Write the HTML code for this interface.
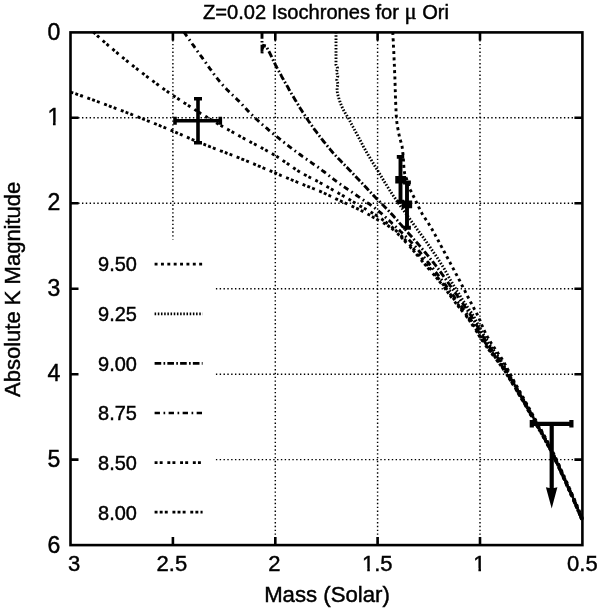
<!DOCTYPE html>
<html><head><meta charset="utf-8"><title>Z=0.02 Isochrones for μ Ori</title>
<style>html,body{margin:0;padding:0;background:#fff}svg{display:block}text{font-family:"Liberation Sans",sans-serif;fill:#000;stroke:#000;stroke-width:0.45px}</style>
</head><body>
<svg width="600" height="611" viewBox="0 0 600 611">
<rect width="600" height="611" fill="#fff"/>
<g stroke="#000" stroke-width="1.45" stroke-dasharray="1.4 2.425" fill="none"><line x1="172.9" y1="32.4" x2="172.9" y2="545.1"/><line x1="275.3" y1="32.4" x2="275.3" y2="545.1"/><line x1="377.6" y1="32.4" x2="377.6" y2="545.1"/><line x1="480.0" y1="32.4" x2="480.0" y2="545.1"/><line x1="70.5" y1="117.8" x2="582.4" y2="117.8"/><line x1="70.5" y1="203.3" x2="582.4" y2="203.3"/><line x1="70.5" y1="288.8" x2="582.4" y2="288.8"/><line x1="70.5" y1="374.2" x2="582.4" y2="374.2"/><line x1="70.5" y1="459.6" x2="582.4" y2="459.6"/></g>
<rect x="70.5" y="239.5" width="145.0" height="305.6" fill="#fff"/>
<g fill="none" stroke="#000" stroke-width="2.9">
<path stroke-dasharray="2.93 2.17 2.93 2.17 2.93 4.72" d="M70.5,92.0 L72.2,92.6 L73.8,93.1 L75.5,93.7 L77.1,94.3 L78.8,94.9 L80.4,95.5 L82.1,96.0 L83.7,96.6 L85.4,97.2 L87.1,97.8 L88.7,98.4 L90.4,99.0 L92.0,99.6 L93.7,100.2 L95.3,100.8 L96.9,101.4 L98.6,102.0 L100.2,102.6 L101.9,103.2 L103.5,103.8 L105.2,104.4 L106.8,105.0 L108.5,105.6 L110.1,106.3 L111.7,106.9 L113.4,107.5 L115.0,108.1 L116.7,108.7 L118.3,109.4 L119.9,110.0 L121.6,110.6 L123.2,111.2 L124.9,111.9 L126.5,112.5 L128.1,113.1 L129.8,113.7 L131.4,114.4 L133.0,115.0 L134.7,115.7 L136.3,116.3 L137.9,116.9 L139.6,117.6 L141.2,118.2 L142.8,118.9 L144.4,119.5 L146.1,120.1 L147.7,120.8 L149.3,121.4 L151.0,122.1 L152.6,122.7 L154.2,123.4 L155.8,124.0 L157.5,124.7 L159.1,125.3 L160.7,126.0 L162.3,126.6 L164.0,127.3 L165.6,128.0 L167.2,128.7 L168.8,129.3 L170.4,130.0 L172.0,130.7 L173.6,131.4 L175.3,132.1 L176.9,132.8 L178.5,133.5 L180.1,134.2 L181.7,134.9 L183.3,135.6 L184.9,136.3 L186.5,137.0 L188.1,137.7 L189.7,138.4 L191.3,139.1 L193.0,139.8 L194.6,140.5 L196.2,141.1 L197.8,141.8 L199.4,142.5 L201.0,143.1 L202.7,143.8 L204.3,144.4 L205.9,145.1 L207.6,145.7 L209.2,146.4 L210.8,147.0 L212.5,147.6 L214.1,148.3 L215.7,148.9 L217.4,149.5 L219.0,150.1 L220.6,150.8 L222.3,151.4 L223.9,152.0 L225.6,152.6 L227.2,153.3 L228.8,153.9 L230.5,154.5 L232.1,155.2 L233.7,155.8 L235.4,156.5 L237.0,157.1 L238.6,157.7 L240.2,158.4 L241.9,159.1 L243.5,159.7 L245.1,160.4 L246.7,161.0 L248.4,161.7 L250.0,162.4 L251.6,163.1 L253.2,163.7 L254.8,164.4 L256.4,165.1 L258.1,165.8 L259.7,166.4 L261.3,167.1 L262.9,167.8 L264.5,168.5 L266.1,169.2 L267.8,169.8 L269.4,170.5 L271.0,171.2 L272.6,171.9 L274.2,172.6 L275.8,173.2 L277.5,173.9 L279.1,174.6 L280.7,175.3 L282.3,175.9 L283.9,176.6 L285.5,177.3 L287.2,178.0 L288.8,178.7 L290.4,179.3 L292.0,180.0 L293.6,180.7 L295.2,181.3 L296.9,182.0 L298.5,182.7 L300.1,183.3 L301.7,184.0 L303.4,184.7 L305.0,185.3 L306.6,185.9 L308.3,186.6 L309.9,187.2 L311.5,187.8 L313.2,188.5 L314.8,189.1 L316.4,189.8 L318.0,190.5 L319.6,191.1 L321.3,191.8 L322.9,192.6 L324.4,193.3 L326.0,194.0 L327.6,194.8 L329.2,195.5 L330.8,196.3 L332.4,197.0 L333.9,197.8 L335.5,198.6 L337.1,199.3 L338.7,200.1 L340.3,200.8 L341.9,201.6 L343.5,202.3 L345.1,203.0 L346.7,203.7 L348.3,204.5 L349.9,205.2 L351.4,205.9 L353.0,206.7 L354.6,207.4 L356.2,208.1 L357.8,208.9 L359.4,209.7 L360.9,210.5 L362.5,211.3 L364.0,212.1 L365.6,212.9 L367.1,213.7 L368.7,214.6 L370.2,215.4 L371.7,216.3 L373.2,217.2 L374.8,218.0 L376.3,218.9 L377.8,219.8 L379.4,220.6 L380.9,221.5 L382.5,222.3 L384.0,223.2 L385.5,224.1 L387.0,225.0 L388.5,226.0 L389.9,227.0 L391.3,228.0 L392.6,229.1 L393.9,230.2 L395.2,231.3 L396.5,232.5 L397.8,233.7 L399.0,235.0 L400.3,236.2 L401.5,237.5 L402.7,238.8 L403.9,240.1 L405.1,241.4 L406.3,242.7 L407.5,244.0 L408.7,245.3 L409.9,246.6 L411.0,247.9 L412.2,249.2 L413.3,250.5 L414.5,251.9 L415.6,253.2 L416.7,254.6 L417.8,255.9 L418.9,257.3 L420.1,258.6 L421.2,260.0 L422.3,261.3 L423.4,262.7 L424.6,264.0 L425.7,265.3 L426.9,266.7 L428.0,268.0 L429.2,269.3 L430.3,270.6 L431.5,271.9 L432.6,273.3 L433.8,274.6 L434.9,275.9 L436.1,277.3 L437.2,278.6 L438.3,279.9 L439.4,281.3 L440.5,282.7 L441.6,284.0 L442.7,285.4 L443.7,286.8 L444.8,288.2 L445.8,289.6 L446.9,291.0 L447.9,292.5 L448.9,293.9 L449.9,295.3 L451.0,296.7 L452.0,298.1 L453.0,299.6 L454.1,301.0 L455.2,302.3 L456.2,303.7 L457.3,305.1 L458.4,306.5 L459.6,307.8 L460.7,309.2 L461.8,310.5 L462.9,311.9 L464.0,313.3 L465.1,314.6 L466.2,316.0 L467.2,317.4 L468.2,318.8 L469.2,320.3 L470.2,321.7 L471.2,323.2 L472.2,324.6 L473.1,326.1 L474.1,327.6 L475.0,329.1 L475.9,330.5 L476.9,332.0 L477.8,333.5 L478.7,335.0 L479.6,336.5 L480.6,338.0 L481.5,339.4 L482.5,340.9 L483.5,342.4 L484.5,343.8 L485.5,345.2 L486.5,346.7 L487.5,348.1 L488.6,349.5 L489.6,350.9 L490.7,352.3 L491.8,353.7 L492.8,355.1 L493.9,356.4 L495.0,357.8 L496.1,359.2 L497.1,360.6 L498.2,362.0 L499.2,363.4 L500.3,364.8 L501.3,366.3 L502.3,367.7 L503.3,369.1 L504.3,370.6 L505.2,372.0 L506.2,373.5 L507.1,375.0 L508.0,376.5 L509.0,378.0 L509.9,379.5 L510.8,381.0 L511.7,382.5 L512.6,384.0 L513.5,385.5 L514.4,387.0 L515.4,388.5 L516.3,390.0 L517.2,391.5 L518.1,393.0 L518.9,394.5 L519.8,396.0 L520.7,397.5 L521.6,399.0 L522.5,400.5 L523.4,402.0 L524.2,403.6 L525.1,405.1 L526.0,406.6 L526.9,408.1 L527.7,409.7 L528.6,411.2 L529.5,412.7 L530.3,414.2 L531.2,415.7 L532.1,417.3 L532.9,418.8 L533.8,420.3 L534.6,421.8 L535.5,423.4 L536.4,424.9 L537.3,426.4 L538.1,427.9 L539.0,429.5 L539.9,431.0 L540.7,432.5 L541.6,434.0 L542.4,435.6 L543.3,437.1 L544.2,438.6 L545.0,440.2 L545.8,441.7 L546.7,443.3 L547.5,444.8 L548.3,446.3 L549.1,447.9 L549.9,449.5 L550.7,451.0 L551.5,452.6 L552.3,454.1 L553.1,455.7 L553.8,457.3 L554.6,458.9 L555.3,460.5 L556.1,462.0 L556.8,463.6 L557.6,465.2 L558.3,466.8 L559.1,468.4 L559.8,470.0 L560.5,471.6 L561.2,473.2 L562.0,474.8 L562.7,476.4 L563.4,478.0 L564.2,479.6 L564.9,481.2 L565.6,482.8 L566.3,484.4 L567.0,486.0 L567.8,487.5 L568.5,489.1 L569.2,490.7 L569.9,492.3 L570.6,494.0 L571.3,495.6 L572.0,497.2 L572.7,498.8 L573.5,500.4 L574.2,502.0 L574.9,503.6 L575.6,505.2 L576.3,506.8 L576.9,508.4 L577.6,510.0 L578.3,511.6 L579.0,513.2 L579.7,514.9 L580.4,516.5 L581.1,518.1 L581.8,519.7"/>
<path stroke-dasharray="2.93 2.17 2.93 4.72" d="M93.3,32.0 L94.6,33.2 L95.9,34.4 L97.2,35.6 L98.6,36.8 L99.9,38.0 L101.2,39.2 L102.6,40.4 L103.9,41.6 L105.2,42.7 L106.6,43.9 L107.9,45.1 L109.3,46.2 L110.6,47.4 L112.0,48.6 L113.3,49.7 L114.7,50.9 L116.0,52.0 L117.4,53.1 L118.8,54.3 L120.1,55.4 L121.5,56.5 L122.9,57.7 L124.3,58.8 L125.6,59.9 L127.0,61.0 L128.4,62.1 L129.8,63.3 L131.2,64.4 L132.6,65.5 L134.0,66.6 L135.4,67.7 L136.8,68.8 L138.2,69.8 L139.6,70.9 L141.0,72.0 L142.4,73.1 L143.8,74.2 L145.2,75.3 L146.6,76.3 L148.0,77.4 L149.4,78.5 L150.8,79.5 L152.3,80.6 L153.7,81.6 L155.1,82.7 L156.5,83.8 L158.0,84.8 L159.4,85.9 L160.8,86.9 L162.3,87.9 L163.7,89.0 L165.1,90.0 L166.6,91.0 L168.1,92.0 L169.5,93.0 L171.0,94.0 L172.5,95.0 L173.9,96.0 L175.4,97.0 L176.9,98.0 L178.4,99.0 L179.9,100.0 L181.3,100.9 L182.8,101.9 L184.3,102.9 L185.8,103.8 L187.3,104.8 L188.8,105.8 L190.3,106.7 L191.8,107.7 L193.3,108.6 L194.8,109.6 L196.3,110.6 L197.8,111.5 L199.3,112.4 L200.8,113.4 L202.3,114.3 L203.8,115.3 L205.3,116.2 L206.8,117.1 L208.4,118.0 L209.9,119.0 L211.4,119.9 L212.9,120.8 L214.4,121.7 L216.0,122.6 L217.5,123.5 L219.0,124.4 L220.6,125.3 L222.1,126.2 L223.6,127.1 L225.2,128.0 L226.7,128.9 L228.3,129.7 L229.8,130.6 L231.4,131.5 L232.9,132.3 L234.5,133.2 L236.0,134.1 L237.6,134.9 L239.1,135.8 L240.7,136.7 L242.2,137.5 L243.8,138.4 L245.3,139.2 L246.9,140.1 L248.5,140.9 L250.0,141.7 L251.6,142.6 L253.2,143.4 L254.8,144.2 L256.3,145.1 L257.9,145.9 L259.5,146.7 L261.0,147.6 L262.6,148.4 L264.2,149.2 L265.7,150.1 L267.3,151.0 L268.8,151.8 L270.4,152.7 L271.9,153.6 L273.4,154.5 L275.0,155.4 L276.5,156.3 L278.0,157.2 L279.5,158.2 L281.0,159.2 L282.4,160.2 L283.9,161.2 L285.4,162.2 L286.8,163.2 L288.3,164.2 L289.7,165.3 L291.2,166.3 L292.7,167.3 L294.1,168.3 L295.6,169.3 L297.1,170.2 L298.6,171.2 L300.1,172.1 L301.6,173.0 L303.2,173.8 L304.7,174.7 L306.3,175.5 L307.9,176.4 L309.5,177.2 L311.0,178.0 L312.6,178.8 L314.2,179.6 L315.8,180.4 L317.4,181.3 L318.9,182.1 L320.5,183.0 L322.0,183.8 L323.6,184.7 L325.1,185.5 L326.7,186.4 L328.2,187.3 L329.8,188.1 L331.3,189.0 L332.9,189.9 L334.4,190.8 L336.0,191.7 L337.5,192.5 L339.0,193.4 L340.6,194.3 L342.1,195.2 L343.6,196.1 L345.2,197.1 L346.7,198.0 L348.2,198.9 L349.7,199.8 L351.2,200.7 L352.7,201.7 L354.3,202.6 L355.8,203.5 L357.3,204.4 L358.8,205.3 L360.4,206.2 L361.9,207.1 L363.5,208.0 L365.0,208.8 L366.6,209.7 L368.1,210.6 L369.7,211.4 L371.2,212.3 L372.8,213.2 L374.3,214.1 L375.8,215.0 L377.3,216.0 L378.7,217.0 L380.2,218.0 L381.7,219.0 L383.1,220.1 L384.5,221.1 L385.9,222.2 L387.3,223.3 L388.7,224.4 L390.1,225.5 L391.5,226.7 L392.8,227.8 L394.1,229.0 L395.5,230.2 L396.8,231.4 L398.0,232.6 L399.3,233.9 L400.6,235.1 L401.8,236.4 L403.1,237.7 L404.3,238.9 L405.5,240.2 L406.8,241.5 L408.0,242.8 L409.2,244.1 L410.4,245.4 L411.6,246.7 L412.8,248.0 L414.0,249.4 L415.1,250.7 L416.3,252.0 L417.5,253.4 L418.6,254.7 L419.8,256.1 L420.9,257.5 L422.1,258.8 L423.2,260.2 L424.3,261.5 L425.5,262.9 L426.6,264.2 L427.8,265.6 L428.9,267.0 L430.1,268.3 L431.2,269.7 L432.3,271.1 L433.5,272.4 L434.6,273.8 L435.7,275.2 L436.9,276.5 L438.0,277.9 L439.1,279.3 L440.2,280.7 L441.3,282.1 L442.4,283.5 L443.5,284.9 L444.5,286.3 L445.6,287.7 L446.7,289.2 L447.7,290.6 L448.8,292.0 L449.8,293.5 L450.8,294.9 L451.9,296.3 L453.0,297.8 L454.0,299.2 L455.1,300.6 L456.2,302.0 L457.2,303.4 L458.3,304.8 L459.4,306.2 L460.6,307.6 L461.7,309.0 L462.8,310.4 L463.9,311.8 L464.9,313.2 L466.0,314.6 L467.1,316.0 L468.1,317.5 L469.1,318.9 L470.2,320.4 L471.1,321.8 L472.1,323.3 L473.1,324.8 L474.1,326.3 L475.0,327.8 L476.0,329.3 L476.9,330.8 L477.9,332.3 L478.8,333.8 L479.7,335.3 L480.6,336.9 L481.6,338.4 L482.5,339.9 L483.5,341.3 L484.5,342.8 L485.5,344.3 L486.6,345.7 L487.6,347.2 L488.6,348.6 L489.7,350.0 L490.7,351.5 L491.8,352.9 L492.9,354.3 L494.0,355.7 L495.1,357.1 L496.1,358.5 L497.2,359.9 L498.2,361.4 L499.3,362.8 L500.3,364.2 L501.4,365.7 L502.4,367.1 L503.4,368.6 L504.4,370.1 L505.3,371.6 L506.3,373.1 L507.2,374.6 L508.2,376.1 L509.1,377.6 L510.0,379.1 L510.9,380.7 L511.8,382.2 L512.8,383.7 L513.7,385.2 L514.6,386.7 L515.5,388.3 L516.4,389.8 L517.3,391.3 L518.2,392.8 L519.1,394.4 L520.0,395.9 L520.9,397.4 L521.8,399.0 L522.7,400.5 L523.6,402.0 L524.5,403.6 L525.4,405.1 L526.2,406.7 L527.1,408.2 L528.0,409.8 L528.9,411.3 L529.8,412.8 L530.6,414.4 L531.5,415.9 L532.4,417.5 L533.3,419.0 L534.1,420.6 L535.0,422.1 L535.9,423.7 L536.8,425.2 L537.6,426.8 L538.5,428.3 L539.4,429.8 L540.3,431.4 L541.2,432.9 L542.0,434.5 L542.9,436.0 L543.8,437.6 L544.6,439.1 L545.5,440.7 L546.3,442.3 L547.2,443.8 L548.0,445.4 L548.8,447.0 L549.6,448.5 L550.4,450.1 L551.2,451.7 L552.0,453.3 L552.8,454.9 L553.6,456.5 L554.4,458.1 L555.1,459.7 L555.9,461.3 L556.6,462.9 L557.4,464.5 L558.1,466.1 L558.9,467.7 L559.6,469.3 L560.4,470.9 L561.1,472.6 L561.9,474.2 L562.6,475.8 L563.3,477.4 L564.1,479.0 L564.8,480.6 L565.5,482.3 L566.3,483.9 L567.0,485.5 L567.7,487.1 L568.4,488.7 L569.2,490.4 L569.9,492.0 L570.6,493.6 L571.3,495.2 L572.1,496.9 L572.8,498.5 L573.5,500.1 L574.2,501.7 L574.9,503.4 L575.6,505.0 L576.3,506.6 L577.0,508.3 L577.7,509.9 L578.4,511.5 L579.1,513.2 L579.8,514.8 L580.5,516.4 L581.2,518.1 L581.9,519.7"/>
<path stroke-dasharray="5.35 3.57 1.66 3.44" d="M184.0,32.0 L184.9,33.3 L185.8,34.6 L186.7,36.0 L187.6,37.3 L188.6,38.6 L189.5,39.9 L190.4,41.2 L191.3,42.5 L192.2,43.8 L193.2,45.1 L194.1,46.4 L195.0,47.8 L195.9,49.1 L196.9,50.4 L197.8,51.7 L198.7,53.0 L199.7,54.3 L200.6,55.6 L201.6,56.9 L202.5,58.2 L203.4,59.5 L204.3,60.8 L205.3,62.1 L206.2,63.4 L207.1,64.7 L208.1,66.0 L209.0,67.3 L209.9,68.6 L210.9,69.9 L211.8,71.2 L212.8,72.5 L213.7,73.8 L214.7,75.1 L215.7,76.4 L216.6,77.6 L217.6,78.9 L218.6,80.1 L219.6,81.4 L220.6,82.6 L221.7,83.8 L222.7,85.0 L223.8,86.2 L224.9,87.4 L226.0,88.5 L227.1,89.7 L228.2,90.8 L229.3,91.9 L230.5,93.0 L231.6,94.2 L232.8,95.3 L234.0,96.4 L235.1,97.5 L236.3,98.6 L237.4,99.7 L238.6,100.9 L239.7,102.0 L240.8,103.1 L241.9,104.3 L243.0,105.5 L244.1,106.7 L245.2,107.8 L246.3,109.0 L247.4,110.2 L248.5,111.4 L249.6,112.5 L250.7,113.7 L251.8,114.8 L252.9,115.9 L254.1,117.0 L255.2,118.1 L256.4,119.2 L257.6,120.3 L258.8,121.4 L260.0,122.5 L261.2,123.5 L262.4,124.6 L263.6,125.6 L264.8,126.7 L266.0,127.7 L267.3,128.7 L268.5,129.8 L269.7,130.8 L270.9,131.8 L272.2,132.9 L273.4,133.9 L274.6,134.9 L275.9,135.9 L277.1,136.9 L278.4,137.9 L279.6,138.9 L280.9,139.9 L282.1,140.9 L283.4,141.9 L284.6,142.9 L285.9,143.9 L287.2,144.9 L288.4,145.8 L289.7,146.8 L291.0,147.8 L292.3,148.8 L293.5,149.7 L294.8,150.7 L296.1,151.6 L297.4,152.6 L298.7,153.6 L300.0,154.5 L301.3,155.5 L302.5,156.4 L303.8,157.3 L305.1,158.3 L306.5,159.2 L307.8,160.1 L309.1,161.0 L310.4,161.9 L311.7,162.8 L313.0,163.8 L314.4,164.7 L315.7,165.6 L317.0,166.5 L318.3,167.4 L319.6,168.4 L320.9,169.3 L322.1,170.3 L323.4,171.3 L324.7,172.2 L326.0,173.2 L327.2,174.2 L328.5,175.2 L329.7,176.2 L331.0,177.2 L332.3,178.1 L333.5,179.1 L334.8,180.1 L336.1,181.1 L337.4,182.0 L338.6,183.0 L339.9,183.9 L341.2,184.9 L342.5,185.8 L343.8,186.7 L345.2,187.6 L346.5,188.5 L347.8,189.4 L349.1,190.3 L350.5,191.2 L351.8,192.1 L353.1,193.0 L354.5,193.9 L355.8,194.8 L357.1,195.7 L358.4,196.6 L359.8,197.5 L361.1,198.4 L362.4,199.3 L363.7,200.2 L365.0,201.1 L366.4,202.0 L367.7,203.0 L369.0,203.9 L370.3,204.8 L371.6,205.7 L372.9,206.7 L374.2,207.6 L375.5,208.6 L376.7,209.6 L378.0,210.5 L379.2,211.6 L380.4,212.6 L381.6,213.6 L382.8,214.7 L384.0,215.8 L385.2,216.9 L386.4,217.9 L387.6,219.0 L388.7,220.1 L389.9,221.2 L391.1,222.3 L392.2,223.5 L393.4,224.6 L394.5,225.7 L395.7,226.8 L396.8,227.9 L398.0,229.0 L399.2,230.1 L400.3,231.2 L401.5,232.3 L402.6,233.5 L403.8,234.6 L404.9,235.7 L406.0,236.8 L407.2,238.0 L408.3,239.1 L409.4,240.3 L410.5,241.4 L411.6,242.6 L412.7,243.8 L413.8,244.9 L414.8,246.1 L415.9,247.3 L416.9,248.6 L417.9,249.8 L419.0,251.0 L420.0,252.2 L421.0,253.5 L422.0,254.7 L423.0,256.0 L424.0,257.2 L425.0,258.5 L426.0,259.7 L427.0,261.0 L428.0,262.3 L429.0,263.5 L430.0,264.8 L431.0,266.0 L432.0,267.3 L433.0,268.5 L434.0,269.8 L434.9,271.1 L435.9,272.3 L436.9,273.6 L437.9,274.9 L438.8,276.2 L439.8,277.4 L440.8,278.7 L441.7,280.0 L442.7,281.3 L443.7,282.5 L444.6,283.8 L445.6,285.1 L446.5,286.4 L447.5,287.7 L448.4,289.0 L449.4,290.3 L450.3,291.6 L451.3,292.9 L452.2,294.1 L453.2,295.4 L454.1,296.7 L455.0,298.0 L456.0,299.3 L456.9,300.6 L457.9,301.9 L458.9,303.2 L459.8,304.4 L460.8,305.7 L461.8,307.0 L462.8,308.3 L463.7,309.5 L464.7,310.8 L465.6,312.1 L466.6,313.4 L467.5,314.7 L468.5,316.0 L469.4,317.3 L470.3,318.6 L471.1,320.0 L472.0,321.3 L472.9,322.7 L473.7,324.0 L474.6,325.4 L475.4,326.7 L476.3,328.1 L477.1,329.5 L478.0,330.8 L478.8,332.2 L479.6,333.6 L480.4,334.9 L481.2,336.3 L482.1,337.7 L482.9,339.0 L483.8,340.4 L484.7,341.7 L485.6,343.1 L486.5,344.4 L487.4,345.7 L488.3,347.0 L489.2,348.3 L490.2,349.6 L491.1,350.9 L492.1,352.2 L493.0,353.5 L494.0,354.7 L495.0,356.0 L495.9,357.3 L496.9,358.6 L497.8,359.9 L498.8,361.2 L499.7,362.5 L500.6,363.8 L501.5,365.1 L502.4,366.4 L503.3,367.7 L504.2,369.1 L505.1,370.4 L506.0,371.8 L506.8,373.1 L507.6,374.5 L508.4,375.9 L509.3,377.3 L510.1,378.6 L510.9,380.0 L511.7,381.4 L512.6,382.8 L513.4,384.1 L514.2,385.5 L515.0,386.9 L515.8,388.3 L516.7,389.6 L517.5,391.0 L518.3,392.4 L519.1,393.8 L519.9,395.2 L520.7,396.5 L521.5,397.9 L522.3,399.3 L523.1,400.7 L523.9,402.1 L524.7,403.5 L525.5,404.9 L526.3,406.3 L527.1,407.7 L527.9,409.0 L528.7,410.4 L529.5,411.8 L530.2,413.2 L531.0,414.6 L531.8,416.0 L532.6,417.4 L533.4,418.8 L534.2,420.2 L535.0,421.6 L535.7,423.0 L536.5,424.4 L537.3,425.8 L538.1,427.2 L538.9,428.6 L539.7,430.0 L540.5,431.4 L541.3,432.8 L542.1,434.1 L542.8,435.5 L543.6,436.9 L544.4,438.3 L545.2,439.8 L545.9,441.2 L546.7,442.6 L547.4,444.0 L548.2,445.4 L548.9,446.8 L549.7,448.2 L550.4,449.7 L551.1,451.1 L551.8,452.5 L552.5,453.9 L553.3,455.4 L554.0,456.8 L554.6,458.3 L555.3,459.7 L556.0,461.2 L556.7,462.6 L557.4,464.1 L558.1,465.5 L558.7,467.0 L559.4,468.4 L560.1,469.9 L560.7,471.3 L561.4,472.8 L562.1,474.3 L562.7,475.7 L563.4,477.2 L564.1,478.6 L564.7,480.1 L565.4,481.5 L566.0,483.0 L566.7,484.5 L567.4,485.9 L568.0,487.4 L568.7,488.8 L569.3,490.3 L570.0,491.8 L570.6,493.2 L571.3,494.7 L571.9,496.2 L572.6,497.6 L573.2,499.1 L573.8,500.6 L574.5,502.0 L575.1,503.5 L575.8,505.0 L576.4,506.4 L577.0,507.9 L577.7,509.4 L578.3,510.8 L578.9,512.3 L579.5,513.8 L580.2,515.3 L580.8,516.7 L581.4,518.2 L582.0,519.7"/>
<path stroke-dasharray="6.63 2.29 1.66 2.17" d="M262.0,32.0 L262.0,53.5 L262.3,49.0 L263.5,45.5 L266.0,46.0 L269.5,52.5 L275.5,65.0 L276.2,66.2 L276.8,67.4 L277.5,68.7 L278.1,69.9 L278.8,71.1 L279.4,72.3 L280.1,73.5 L280.8,74.7 L281.4,75.9 L282.1,77.2 L282.8,78.4 L283.5,79.6 L284.1,80.8 L284.8,82.0 L285.5,83.2 L286.2,84.4 L286.9,85.6 L287.6,86.8 L288.3,88.0 L288.9,89.2 L289.6,90.4 L290.3,91.6 L291.0,92.8 L291.7,94.0 L292.4,95.2 L293.1,96.4 L293.8,97.5 L294.5,98.7 L295.2,99.9 L295.9,101.1 L296.6,102.3 L297.4,103.5 L298.1,104.7 L298.8,105.9 L299.5,107.1 L300.2,108.2 L301.0,109.4 L301.7,110.6 L302.4,111.8 L303.2,112.9 L303.9,114.1 L304.7,115.2 L305.4,116.4 L306.2,117.5 L307.0,118.7 L307.7,119.8 L308.5,121.0 L309.3,122.1 L310.1,123.2 L310.9,124.4 L311.7,125.5 L312.5,126.6 L313.3,127.7 L314.1,128.9 L314.9,130.0 L315.8,131.1 L316.6,132.2 L317.4,133.3 L318.3,134.4 L319.1,135.5 L319.9,136.6 L320.8,137.7 L321.6,138.8 L322.5,139.9 L323.3,141.0 L324.2,142.1 L325.1,143.2 L325.9,144.3 L326.8,145.3 L327.7,146.4 L328.6,147.5 L329.5,148.5 L330.3,149.6 L331.2,150.6 L332.1,151.7 L333.0,152.7 L334.0,153.7 L334.9,154.8 L335.8,155.8 L336.8,156.8 L337.7,157.8 L338.6,158.8 L339.6,159.8 L340.6,160.8 L341.5,161.8 L342.5,162.8 L343.4,163.8 L344.4,164.8 L345.4,165.8 L346.3,166.8 L347.3,167.8 L348.3,168.8 L349.2,169.8 L350.2,170.8 L351.2,171.8 L352.1,172.8 L353.1,173.8 L354.0,174.8 L355.0,175.8 L355.9,176.8 L356.9,177.8 L357.8,178.8 L358.8,179.8 L359.7,180.8 L360.7,181.8 L361.6,182.8 L362.6,183.8 L363.5,184.8 L364.5,185.8 L365.4,186.8 L366.4,187.8 L367.3,188.9 L368.3,189.9 L369.2,190.9 L370.2,191.9 L371.1,192.9 L372.1,193.9 L373.0,194.9 L374.0,195.9 L375.0,196.9 L375.9,197.9 L376.9,198.9 L377.8,199.9 L378.8,200.8 L379.8,201.8 L380.7,202.8 L381.7,203.8 L382.7,204.8 L383.7,205.8 L384.6,206.7 L385.6,207.7 L386.6,208.7 L387.5,209.7 L388.5,210.7 L389.5,211.7 L390.4,212.7 L391.3,213.7 L392.3,214.8 L393.2,215.8 L394.1,216.8 L395.0,217.9 L395.9,218.9 L396.9,219.9 L397.8,221.0 L398.7,222.0 L399.6,223.1 L400.5,224.1 L401.4,225.1 L402.3,226.2 L403.2,227.2 L404.1,228.3 L405.0,229.3 L406.0,230.3 L406.9,231.4 L407.8,232.4 L408.7,233.5 L409.6,234.5 L410.5,235.5 L411.5,236.6 L412.4,237.6 L413.3,238.6 L414.2,239.7 L415.1,240.7 L416.0,241.7 L417.0,242.8 L417.9,243.8 L418.8,244.9 L419.7,245.9 L420.6,247.0 L421.5,248.0 L422.4,249.1 L423.3,250.1 L424.1,251.2 L425.0,252.3 L425.9,253.3 L426.8,254.4 L427.7,255.4 L428.6,256.5 L429.4,257.6 L430.3,258.7 L431.2,259.7 L432.1,260.8 L432.9,261.9 L433.8,263.0 L434.6,264.1 L435.5,265.2 L436.3,266.3 L437.1,267.4 L438.0,268.5 L438.8,269.6 L439.6,270.7 L440.4,271.8 L441.2,272.9 L442.0,274.1 L442.8,275.2 L443.6,276.3 L444.4,277.5 L445.2,278.6 L446.0,279.7 L446.8,280.9 L447.6,282.0 L448.4,283.1 L449.2,284.2 L450.0,285.4 L450.8,286.5 L451.6,287.6 L452.4,288.7 L453.2,289.9 L454.0,291.0 L454.8,292.1 L455.6,293.3 L456.4,294.4 L457.2,295.5 L458.0,296.7 L458.8,297.8 L459.6,298.9 L460.4,300.1 L461.2,301.2 L462.0,302.3 L462.8,303.5 L463.5,304.6 L464.3,305.7 L465.1,306.9 L465.9,308.0 L466.7,309.2 L467.5,310.3 L468.2,311.5 L469.0,312.6 L469.8,313.8 L470.5,314.9 L471.2,316.1 L472.0,317.3 L472.7,318.5 L473.4,319.6 L474.1,320.8 L474.8,322.0 L475.5,323.2 L476.2,324.4 L476.9,325.6 L477.6,326.8 L478.2,328.0 L478.9,329.2 L479.6,330.4 L480.3,331.6 L481.0,332.8 L481.7,334.0 L482.4,335.2 L483.1,336.4 L483.8,337.6 L484.5,338.8 L485.2,340.0 L486.0,341.1 L486.7,342.3 L487.5,343.4 L488.3,344.6 L489.1,345.7 L489.8,346.9 L490.6,348.0 L491.4,349.1 L492.2,350.3 L493.0,351.4 L493.9,352.5 L494.7,353.6 L495.5,354.7 L496.3,355.8 L497.1,357.0 L498.0,358.1 L498.8,359.2 L499.5,360.3 L500.3,361.5 L501.1,362.6 L501.8,363.8 L502.6,365.0 L503.4,366.1 L504.1,367.3 L504.8,368.5 L505.6,369.6 L506.3,370.8 L507.0,372.0 L507.7,373.2 L508.4,374.4 L509.1,375.6 L509.8,376.8 L510.5,378.0 L511.2,379.2 L511.9,380.4 L512.6,381.6 L513.3,382.8 L513.9,384.0 L514.6,385.1 L515.3,386.3 L516.0,387.5 L516.7,388.7 L517.4,389.9 L518.1,391.1 L518.8,392.3 L519.5,393.5 L520.2,394.7 L520.9,395.9 L521.6,397.1 L522.3,398.3 L523.0,399.5 L523.6,400.7 L524.3,401.9 L525.0,403.1 L525.7,404.3 L526.4,405.5 L527.1,406.7 L527.8,407.9 L528.4,409.1 L529.1,410.3 L529.8,411.5 L530.5,412.7 L531.1,414.0 L531.8,415.2 L532.5,416.4 L533.2,417.6 L533.9,418.8 L534.5,420.0 L535.2,421.2 L535.9,422.4 L536.6,423.6 L537.2,424.8 L537.9,426.0 L538.6,427.2 L539.3,428.4 L540.0,429.6 L540.6,430.8 L541.3,432.0 L542.0,433.3 L542.7,434.5 L543.3,435.7 L544.0,436.9 L544.7,438.1 L545.3,439.3 L546.0,440.5 L546.7,441.7 L547.3,443.0 L548.0,444.2 L548.6,445.4 L549.2,446.6 L549.9,447.9 L550.5,449.1 L551.1,450.3 L551.7,451.6 L552.4,452.8 L553.0,454.0 L553.6,455.3 L554.2,456.5 L554.8,457.8 L555.4,459.0 L556.0,460.3 L556.6,461.5 L557.1,462.8 L557.7,464.0 L558.3,465.3 L558.9,466.5 L559.5,467.8 L560.1,469.1 L560.6,470.3 L561.2,471.6 L561.8,472.8 L562.3,474.1 L562.9,475.3 L563.5,476.6 L564.1,477.9 L564.6,479.1 L565.2,480.4 L565.8,481.7 L566.3,482.9 L566.9,484.2 L567.5,485.4 L568.0,486.7 L568.6,488.0 L569.2,489.2 L569.7,490.5 L570.3,491.7 L570.9,493.0 L571.4,494.3 L572.0,495.5 L572.5,496.8 L573.1,498.1 L573.6,499.3 L574.2,500.6 L574.7,501.9 L575.3,503.2 L575.8,504.4 L576.4,505.7 L576.9,507.0 L577.5,508.2 L578.0,509.5 L578.6,510.8 L579.1,512.0 L579.7,513.3 L580.2,514.6 L580.7,515.9 L581.3,517.1 L581.8,518.4 L582.3,519.7"/>
<path stroke-dasharray="1.53 1.66" d="M336.0,32.0 L336.0,65.0 L337.5,68.0 L336.5,72.0 L337.8,76.0 L336.8,80.0 L338.0,84.0 L337.0,88.0 L337.3,92.0 L337.6,93.2 L337.8,94.4 L338.1,95.7 L338.5,96.9 L338.8,98.1 L339.2,99.3 L339.6,100.4 L339.9,101.6 L340.4,102.8 L340.8,103.9 L341.2,105.1 L341.7,106.2 L342.2,107.3 L342.7,108.4 L343.3,109.5 L343.8,110.6 L344.5,111.7 L345.1,112.8 L345.7,113.8 L346.4,114.9 L347.0,116.0 L347.6,117.1 L348.3,118.1 L348.9,119.2 L349.5,120.3 L350.1,121.4 L350.6,122.5 L351.2,123.6 L351.8,124.7 L352.4,125.8 L353.0,126.9 L353.6,127.9 L354.2,129.0 L354.7,130.1 L355.3,131.2 L355.9,132.3 L356.5,133.4 L357.1,134.5 L357.7,135.6 L358.2,136.7 L358.8,137.8 L359.4,138.9 L360.0,140.0 L360.6,141.1 L361.1,142.2 L361.7,143.3 L362.3,144.4 L362.9,145.5 L363.4,146.6 L364.0,147.7 L364.6,148.7 L365.2,149.8 L365.8,150.9 L366.4,152.0 L367.0,153.1 L367.7,154.1 L368.3,155.2 L368.9,156.3 L369.6,157.3 L370.2,158.4 L370.8,159.4 L371.5,160.5 L372.1,161.6 L372.8,162.6 L373.4,163.7 L374.1,164.7 L374.7,165.8 L375.4,166.8 L376.0,167.9 L376.7,169.0 L377.3,170.0 L378.0,171.1 L378.6,172.1 L379.2,173.2 L379.9,174.3 L380.5,175.3 L381.2,176.4 L381.8,177.4 L382.4,178.5 L383.1,179.6 L383.7,180.6 L384.4,181.7 L385.0,182.7 L385.7,183.8 L386.3,184.8 L387.0,185.9 L387.6,187.0 L388.3,188.0 L388.9,189.0 L389.6,190.1 L390.3,191.1 L391.0,192.2 L391.6,193.2 L392.3,194.2 L393.0,195.3 L393.7,196.3 L394.4,197.3 L395.1,198.3 L395.8,199.4 L396.5,200.4 L397.2,201.4 L397.9,202.4 L398.6,203.4 L399.3,204.4 L400.1,205.4 L400.8,206.5 L401.5,207.5 L402.2,208.5 L402.9,209.5 L403.7,210.5 L404.4,211.5 L405.1,212.5 L405.8,213.5 L406.6,214.5 L407.3,215.5 L408.0,216.5 L408.7,217.5 L409.5,218.5 L410.2,219.5 L410.9,220.6 L411.6,221.6 L412.3,222.6 L413.1,223.6 L413.8,224.6 L414.5,225.6 L415.3,226.6 L416.0,227.6 L416.7,228.6 L417.4,229.6 L418.2,230.6 L418.9,231.6 L419.6,232.6 L420.4,233.6 L421.1,234.6 L421.8,235.6 L422.6,236.6 L423.3,237.6 L424.0,238.6 L424.7,239.6 L425.4,240.6 L426.1,241.6 L426.9,242.7 L427.6,243.7 L428.3,244.7 L429.0,245.7 L429.7,246.7 L430.4,247.7 L431.1,248.8 L431.8,249.8 L432.5,250.8 L433.2,251.8 L433.9,252.9 L434.6,253.9 L435.3,254.9 L436.0,255.9 L436.7,257.0 L437.4,258.0 L438.0,259.0 L438.7,260.1 L439.4,261.1 L440.1,262.1 L440.7,263.2 L441.4,264.2 L442.1,265.3 L442.7,266.3 L443.4,267.4 L444.0,268.4 L444.6,269.5 L445.2,270.6 L445.8,271.7 L446.4,272.7 L447.0,273.8 L447.6,274.9 L448.2,276.0 L448.8,277.1 L449.4,278.2 L450.0,279.3 L450.6,280.3 L451.3,281.4 L451.9,282.5 L452.5,283.6 L453.1,284.6 L453.8,285.7 L454.4,286.7 L455.1,287.8 L455.7,288.9 L456.4,289.9 L457.0,291.0 L457.7,292.0 L458.3,293.1 L459.0,294.1 L459.6,295.2 L460.3,296.2 L461.0,297.3 L461.6,298.3 L462.3,299.4 L463.0,300.4 L463.6,301.4 L464.3,302.5 L465.0,303.5 L465.7,304.5 L466.4,305.6 L467.1,306.6 L467.8,307.6 L468.5,308.6 L469.2,309.7 L469.9,310.7 L470.6,311.7 L471.3,312.7 L471.9,313.8 L472.6,314.8 L473.2,315.9 L473.9,317.0 L474.5,318.0 L475.1,319.1 L475.7,320.2 L476.3,321.3 L476.9,322.3 L477.5,323.4 L478.1,324.5 L478.7,325.6 L479.3,326.7 L479.8,327.8 L480.4,328.9 L481.0,330.0 L481.6,331.1 L482.2,332.1 L482.8,333.2 L483.4,334.3 L484.0,335.4 L484.6,336.5 L485.3,337.6 L485.9,338.6 L486.5,339.7 L487.2,340.7 L487.8,341.8 L488.5,342.8 L489.2,343.9 L489.9,344.9 L490.6,345.9 L491.3,346.9 L492.0,347.9 L492.7,349.0 L493.4,350.0 L494.1,351.0 L494.8,352.0 L495.6,353.0 L496.3,354.0 L497.0,355.0 L497.7,356.0 L498.5,357.0 L499.2,358.1 L499.9,359.1 L500.6,360.1 L501.2,361.1 L501.9,362.2 L502.6,363.2 L503.2,364.3 L503.9,365.4 L504.5,366.4 L505.1,367.5 L505.8,368.5 L506.4,369.6 L507.0,370.7 L507.6,371.7 L508.3,372.8 L508.9,373.9 L509.5,375.0 L510.1,376.1 L510.7,377.1 L511.3,378.2 L511.9,379.3 L512.5,380.4 L513.1,381.5 L513.7,382.5 L514.3,383.6 L515.0,384.7 L515.6,385.8 L516.2,386.8 L516.8,387.9 L517.4,389.0 L518.0,390.1 L518.7,391.1 L519.3,392.2 L519.9,393.3 L520.5,394.4 L521.1,395.4 L521.7,396.5 L522.3,397.6 L523.0,398.7 L523.6,399.7 L524.2,400.8 L524.8,401.9 L525.4,403.0 L526.0,404.1 L526.6,405.1 L527.2,406.2 L527.8,407.3 L528.5,408.4 L529.1,409.5 L529.7,410.5 L530.3,411.6 L530.9,412.7 L531.5,413.8 L532.1,414.9 L532.7,415.9 L533.3,417.0 L533.9,418.1 L534.5,419.2 L535.1,420.3 L535.7,421.4 L536.3,422.4 L536.9,423.5 L537.5,424.6 L538.1,425.7 L538.7,426.8 L539.3,427.8 L540.0,428.9 L540.6,430.0 L541.2,431.1 L541.8,432.2 L542.4,433.3 L543.0,434.3 L543.6,435.4 L544.2,436.5 L544.8,437.6 L545.4,438.7 L546.0,439.8 L546.5,440.9 L547.1,441.9 L547.7,443.0 L548.3,444.1 L548.9,445.2 L549.4,446.3 L550.0,447.4 L550.6,448.5 L551.1,449.6 L551.7,450.7 L552.2,451.8 L552.8,453.0 L553.3,454.1 L553.9,455.2 L554.4,456.3 L554.9,457.4 L555.5,458.5 L556.0,459.7 L556.5,460.8 L557.1,461.9 L557.6,463.0 L558.1,464.1 L558.6,465.3 L559.1,466.4 L559.7,467.5 L560.2,468.6 L560.7,469.8 L561.2,470.9 L561.7,472.0 L562.2,473.2 L562.7,474.3 L563.3,475.4 L563.8,476.5 L564.3,477.7 L564.8,478.8 L565.3,479.9 L565.8,481.1 L566.3,482.2 L566.8,483.3 L567.3,484.5 L567.8,485.6 L568.3,486.7 L568.8,487.8 L569.3,489.0 L569.9,490.1 L570.4,491.2 L570.9,492.4 L571.4,493.5 L571.9,494.6 L572.4,495.8 L572.9,496.9 L573.3,498.0 L573.8,499.2 L574.3,500.3 L574.8,501.5 L575.3,502.6 L575.8,503.7 L576.3,504.9 L576.8,506.0 L577.3,507.1 L577.8,508.3 L578.3,509.4 L578.7,510.6 L579.2,511.7 L579.7,512.8 L580.2,514.0 L580.7,515.1 L581.2,516.3 L581.6,517.4 L582.1,518.6 L582.6,519.7"/>
<path stroke-dasharray="2.93 3.44" d="M392.8,32.0 L392.9,33.3 L392.9,34.7 L393.0,36.0 L393.1,37.3 L393.1,38.7 L393.2,40.0 L393.3,41.3 L393.3,42.7 L393.4,44.0 L393.4,45.3 L393.5,46.7 L393.6,48.0 L393.6,49.3 L393.7,50.7 L393.8,52.0 L393.8,53.3 L393.9,54.7 L393.9,56.0 L394.0,57.3 L394.1,58.7 L394.1,60.0 L394.2,61.3 L394.2,62.7 L394.3,64.0 L394.4,65.3 L394.4,66.7 L394.5,68.0 L394.5,69.3 L394.6,70.6 L394.6,72.0 L394.7,73.3 L394.8,74.6 L394.8,76.0 L394.9,77.3 L394.9,78.7 L395.0,80.0 L395.0,81.3 L395.0,82.7 L395.1,84.0 L395.1,85.3 L395.2,86.7 L395.2,88.0 L395.2,89.3 L395.3,90.7 L395.3,92.0 L395.4,93.3 L395.4,94.7 L395.4,96.0 L395.5,97.4 L395.5,98.7 L395.6,100.0 L395.6,101.4 L395.7,102.7 L395.7,104.0 L395.8,105.4 L395.8,106.7 L395.9,108.0 L396.0,109.4 L396.0,110.7 L396.1,112.0 L396.2,113.3 L396.2,114.7 L396.3,116.0 L396.4,117.3 L396.5,118.6 L396.6,120.0 L396.7,121.3 L396.9,122.6 L397.1,123.9 L397.3,125.3 L397.5,126.6 L397.7,127.9 L398.0,129.2 L398.2,130.5 L398.5,131.8 L398.7,133.1 L399.0,134.5 L399.3,135.8 L399.5,137.1 L399.9,138.4 L400.2,139.7 L400.6,140.9 L401.0,142.2 L401.3,143.5 L401.7,144.8 L402.0,146.1 L402.2,147.4 L402.4,148.7 L402.6,150.0 L402.7,151.4 L402.8,152.7 L402.9,154.0 L403.1,155.4 L403.2,156.7 L403.3,158.0 L403.4,159.4 L403.5,160.7 L403.6,162.0 L403.7,163.4 L403.7,164.7 L403.8,166.0 L403.9,167.4 L404.0,168.7 L404.1,170.0 L404.3,171.3 L404.5,172.6 L404.8,173.9 L405.2,175.2 L405.6,176.5 L406.1,177.7 L406.6,179.0 L407.0,180.3 L407.4,181.5 L407.8,182.8 L408.2,184.1 L408.7,185.3 L409.1,186.6 L409.6,187.9 L410.0,189.1 L410.5,190.3 L411.1,191.5 L411.7,192.7 L412.2,193.9 L412.8,195.1 L413.5,196.3 L414.1,197.5 L414.7,198.7 L415.3,199.9 L415.9,201.1 L416.5,202.3 L417.1,203.5 L417.7,204.7 L418.3,205.9 L418.8,207.1 L419.4,208.3 L420.0,209.5 L420.6,210.7 L421.2,211.9 L421.8,213.1 L422.4,214.2 L423.1,215.4 L423.8,216.5 L424.5,217.6 L425.3,218.7 L426.1,219.8 L426.9,220.9 L427.6,222.0 L428.3,223.1 L429.0,224.3 L429.7,225.4 L430.4,226.5 L431.1,227.7 L431.7,228.8 L432.4,230.0 L433.0,231.1 L433.7,232.3 L434.4,233.5 L435.0,234.6 L435.6,235.8 L436.3,237.0 L436.9,238.2 L437.6,239.3 L438.2,240.5 L438.8,241.7 L439.4,242.9 L440.1,244.0 L440.7,245.2 L441.3,246.4 L442.0,247.6 L442.6,248.8 L443.2,249.9 L443.8,251.1 L444.5,252.3 L445.1,253.5 L445.7,254.6 L446.4,255.8 L447.0,257.0 L447.7,258.2 L448.3,259.3 L448.9,260.5 L449.6,261.7 L450.2,262.9 L450.8,264.0 L451.5,265.2 L452.1,266.4 L452.7,267.6 L453.3,268.7 L454.0,269.9 L454.6,271.1 L455.2,272.3 L455.8,273.5 L456.5,274.6 L457.1,275.8 L457.7,277.0 L458.3,278.2 L458.9,279.4 L459.6,280.5 L460.2,281.7 L460.8,282.9 L461.4,284.1 L462.0,285.3 L462.6,286.5 L463.2,287.7 L463.8,288.8 L464.4,290.0 L465.0,291.2 L465.6,292.4 L466.2,293.6 L466.8,294.8 L467.4,296.0 L468.1,297.2 L468.7,298.4 L469.3,299.6 L469.9,300.7 L470.5,301.9 L471.1,303.1 L471.8,304.3 L472.4,305.4 L473.1,306.6 L473.7,307.8 L474.3,309.0 L475.0,310.1 L475.6,311.3 L476.2,312.5 L476.8,313.7 L477.4,314.9 L478.0,316.1 L478.6,317.3 L479.1,318.5 L479.6,319.7 L480.2,320.9 L480.7,322.2 L481.2,323.4 L481.7,324.7 L482.2,325.9 L482.7,327.1 L483.2,328.3 L483.8,329.6 L484.4,330.8 L485.0,332.0 L485.6,333.1 L486.2,334.3 L486.8,335.5 L487.4,336.7 L488.1,337.9 L488.7,339.0 L489.4,340.2 L490.1,341.3 L490.8,342.4 L491.5,343.6 L492.3,344.7 L493.0,345.8 L493.7,346.9 L494.5,348.0 L495.2,349.1 L496.0,350.2 L496.7,351.3 L497.5,352.4 L498.2,353.5 L499.0,354.6 L499.8,355.7 L500.5,356.8 L501.2,357.9 L502.0,359.1 L502.7,360.2 L503.3,361.3 L504.0,362.5 L504.7,363.6 L505.3,364.8 L505.9,366.0 L506.6,367.2 L507.2,368.3 L507.8,369.5 L508.5,370.7 L509.1,371.9 L509.7,373.1 L510.3,374.2 L511.0,375.4 L511.6,376.6 L512.2,377.8 L512.8,379.0 L513.5,380.1 L514.1,381.3 L514.7,382.5 L515.4,383.6 L516.0,384.8 L516.7,386.0 L517.3,387.1 L518.0,388.3 L518.6,389.5 L519.3,390.6 L520.0,391.8 L520.6,393.0 L521.3,394.1 L521.9,395.3 L522.6,396.4 L523.2,397.6 L523.9,398.8 L524.5,399.9 L525.2,401.1 L525.8,402.3 L526.5,403.4 L527.1,404.6 L527.8,405.8 L528.4,406.9 L529.1,408.1 L529.7,409.3 L530.4,410.4 L531.0,411.6 L531.7,412.8 L532.3,413.9 L533.0,415.1 L533.6,416.3 L534.3,417.4 L534.9,418.6 L535.5,419.8 L536.2,420.9 L536.8,422.1 L537.5,423.3 L538.1,424.4 L538.8,425.6 L539.4,426.8 L540.1,427.9 L540.7,429.1 L541.4,430.3 L542.0,431.4 L542.7,432.6 L543.3,433.8 L544.0,434.9 L544.6,436.1 L545.2,437.3 L545.9,438.4 L546.5,439.6 L547.1,440.8 L547.8,442.0 L548.4,443.2 L549.0,444.3 L549.6,445.5 L550.2,446.7 L550.8,447.9 L551.4,449.1 L552.0,450.3 L552.6,451.5 L553.2,452.7 L553.8,453.9 L554.4,455.1 L555.0,456.3 L555.5,457.5 L556.1,458.7 L556.7,459.9 L557.2,461.1 L557.8,462.3 L558.4,463.5 L558.9,464.7 L559.5,465.9 L560.0,467.1 L560.6,468.4 L561.1,469.6 L561.7,470.8 L562.3,472.0 L562.8,473.2 L563.3,474.4 L563.9,475.7 L564.4,476.9 L565.0,478.1 L565.5,479.3 L566.1,480.5 L566.6,481.7 L567.2,483.0 L567.7,484.2 L568.3,485.4 L568.8,486.6 L569.3,487.8 L569.9,489.0 L570.4,490.3 L571.0,491.5 L571.5,492.7 L572.0,493.9 L572.6,495.2 L573.1,496.4 L573.6,497.6 L574.2,498.8 L574.7,500.0 L575.2,501.3 L575.8,502.5 L576.3,503.7 L576.8,504.9 L577.3,506.2 L577.9,507.4 L578.4,508.6 L578.9,509.9 L579.4,511.1 L580.0,512.3 L580.5,513.5 L581.0,514.8 L581.5,516.0 L582.0,517.2 L582.5,518.5 L583.0,519.7"/>
<path stroke-width="2.4" d="M511.8,380.0 L512.5,381.1 L513.1,382.3 L513.8,383.4 L514.5,384.5 L515.1,385.7 L515.8,386.8 L516.4,388.0 L517.1,389.1 L517.8,390.2 L518.4,391.4 L519.1,392.5 L519.7,393.7 L520.4,394.8 L521.0,395.9 L521.7,397.1 L522.4,398.2 L523.0,399.4 L523.7,400.5 L524.3,401.7 L525.0,402.8 L525.6,404.0 L526.3,405.1 L526.9,406.2 L527.6,407.4 L528.2,408.5 L528.9,409.7 L529.5,410.8 L530.1,412.0 L530.8,413.1 L531.4,414.3 L532.1,415.4 L532.7,416.6 L533.4,417.7 L534.0,418.9 L534.6,420.0 L535.3,421.2 L535.9,422.3 L536.6,423.5 L537.2,424.6 L537.9,425.8 L538.5,426.9 L539.2,428.1 L539.8,429.2 L540.5,430.4 L541.1,431.5 L541.8,432.7 L542.4,433.8 L543.0,435.0 L543.7,436.1 L544.3,437.3 L544.9,438.4 L545.6,439.6 L546.2,440.7 L546.8,441.9 L547.4,443.0 L548.1,444.2 L548.7,445.4 L549.3,446.5 L549.9,447.7 L550.5,448.9 L551.1,450.1 L551.7,451.2 L552.3,452.4 L552.8,453.6 L553.4,454.8 L554.0,456.0 L554.6,457.1 L555.1,458.3 L555.7,459.5 L556.3,460.7 L556.8,461.9 L557.4,463.1 L557.9,464.3 L558.5,465.5 L559.0,466.7 L559.6,467.9 L560.1,469.1 L560.7,470.3 L561.2,471.5 L561.8,472.7 L562.3,473.9 L562.9,475.1 L563.4,476.3 L564.0,477.5 L564.5,478.7 L565.0,479.9 L565.6,481.1 L566.1,482.3 L566.7,483.5 L567.2,484.7 L567.7,485.9 L568.3,487.1 L568.8,488.3 L569.4,489.5 L569.9,490.7 L570.4,491.9 L571.0,493.1 L571.5,494.3 L572.0,495.5 L572.5,496.7 L573.1,497.9 L573.6,499.1 L574.1,500.3 L574.7,501.5 L575.2,502.7 L575.7,503.9 L576.2,505.2 L576.7,506.4 L577.3,507.6 L577.8,508.8 L578.3,510.0 L578.8,511.2 L579.3,512.4 L579.8,513.6 L580.4,514.8 L580.9,516.1 L581.4,517.3 L581.9,518.5 L582.4,519.7"/>
</g>
<text transform="translate(136.9,271.4) scale(0.96,1)" font-size="20.8" text-anchor="end">9.50</text><line x1="154.6" y1="264.2" x2="202.6" y2="264.2" stroke="#000" stroke-width="2.7" stroke-dasharray="2.93 3.44"/>
<text transform="translate(136.9,321.0) scale(0.96,1)" font-size="20.8" text-anchor="end">9.25</text><line x1="154.6" y1="313.8" x2="202.6" y2="313.8" stroke="#000" stroke-width="2.7" stroke-dasharray="1.53 1.66"/>
<text transform="translate(136.9,370.7) scale(0.96,1)" font-size="20.8" text-anchor="end">9.00</text><line x1="154.6" y1="363.4" x2="202.6" y2="363.4" stroke="#000" stroke-width="2.7" stroke-dasharray="6.63 2.29 1.66 2.17"/>
<text transform="translate(136.9,420.3) scale(0.96,1)" font-size="20.8" text-anchor="end">8.75</text><line x1="154.6" y1="413.0" x2="202.6" y2="413.0" stroke="#000" stroke-width="2.7" stroke-dasharray="5.35 3.57 1.66 3.44"/>
<text transform="translate(136.9,470.0) scale(0.96,1)" font-size="20.8" text-anchor="end">8.50</text><line x1="154.6" y1="462.6" x2="202.6" y2="462.6" stroke="#000" stroke-width="2.7" stroke-dasharray="2.93 2.17 2.93 4.72"/>
<text transform="translate(136.9,519.6) scale(0.96,1)" font-size="20.8" text-anchor="end">8.00</text><line x1="154.6" y1="512.2" x2="202.6" y2="512.2" stroke="#000" stroke-width="2.7" stroke-dasharray="2.93 2.17 2.93 2.17 2.93 4.72"/>
<g stroke="#000" stroke-width="2.6" fill="none"><rect x="70.5" y="32.4" width="511.9" height="512.7"/><path d="M172.9,32.4 v8 M172.9,545.1 v-8"/><path d="M275.3,32.4 v8 M275.3,545.1 v-8"/><path d="M377.6,32.4 v8 M377.6,545.1 v-8"/><path d="M480.0,32.4 v8 M480.0,545.1 v-8"/><path d="M70.5,117.8 h8 M582.4,117.8 h-8"/><path d="M70.5,203.3 h8 M582.4,203.3 h-8"/><path d="M70.5,288.8 h8 M582.4,288.8 h-8"/><path d="M70.5,374.2 h8 M582.4,374.2 h-8"/><path d="M70.5,459.6 h8 M582.4,459.6 h-8"/></g>
<g stroke="#000" fill="none"><g stroke-width="3.6"><path d="M175.0,120.7 H220.3 M198.0,98.7 V142.7 M175.0,116.7 v8.0 M220.3,116.7 v8.0 M194.0,98.7 h8.0 M194.0,142.7 h8.0"/></g><g stroke-width="3.9"><path d="M397.2,179.8 H404.2 M400.5,156.9 V201.7 M397.2,176.1 v7.4 M404.2,176.1 v7.4 M396.8,156.9 h7.4 M396.8,201.7 h7.4"/><path d="M403.6,204.4 H410.2 M407.0,182.5 V227.8 M403.6,200.5 v7.8 M410.2,200.5 v7.8 M403.1,182.5 h7.8 M403.1,227.8 h7.8"/></g><path stroke-width="4.2" d="M531.8,423.8 H571.4 M531.8,420 v7.6 M571.4,420 v7.6 M551.7,423.8 V490"/></g><path d="M551.7,508.6 L545.9,487.2 L551.7,488.4 L557.4,487.2 Z" fill="#000"/>
<text x="326" y="18.5" font-size="20.1" text-anchor="middle">Z=0.02 Isochrones for <tspan font-family="Liberation Serif,serif" font-size="22.5">μ</tspan> Ori</text>
<text x="60.3" y="40.4" font-size="23" text-anchor="end">0</text><text x="60.3" y="124.8" font-size="23" text-anchor="end">1</text><rect x="47.51" y="122.50" width="5.45" height="4.60" fill="#fff"/><rect x="55.63" y="122.50" width="5.22" height="4.60" fill="#fff"/><text x="60.3" y="210.3" font-size="23" text-anchor="end">2</text><text x="60.3" y="296.4" font-size="23" text-anchor="end">3</text><text x="60.3" y="381.1" font-size="23" text-anchor="end">4</text><text x="60.3" y="467.0" font-size="23" text-anchor="end">5</text><text x="60.3" y="553.3" font-size="23" text-anchor="end">6</text>
<text transform="translate(74.1,570.6) scale(0.962,1)" font-size="22.9" text-anchor="middle">3</text><text transform="translate(171.9,570.6) scale(0.962,1)" font-size="22.9" text-anchor="middle">2.5</text><text transform="translate(274.5,570.6) scale(0.962,1)" font-size="22.9" text-anchor="middle">2</text><text transform="translate(377.3,570.6) scale(0.962,1)" font-size="22.9" text-anchor="middle">1.5</text><rect x="362.03" y="568.31" width="5.21" height="4.58" fill="#fff"/><rect x="369.82" y="568.31" width="4.99" height="4.58" fill="#fff"/><text transform="translate(479.3,570.6) scale(0.962,1)" font-size="22.9" text-anchor="middle">1</text><rect x="473.20" y="568.31" width="5.21" height="4.58" fill="#fff"/><rect x="480.99" y="568.31" width="4.99" height="4.58" fill="#fff"/><text transform="translate(582.4,570.6) scale(0.962,1)" font-size="22.9" text-anchor="middle">0.5</text>
<text x="327" y="602.2" font-size="22.2" text-anchor="middle">Mass (Solar)</text>
<text transform="translate(19.8,289.3) rotate(-90)" font-size="22" text-anchor="middle">Absolute K Magnitude</text>
</svg>
</body></html>
